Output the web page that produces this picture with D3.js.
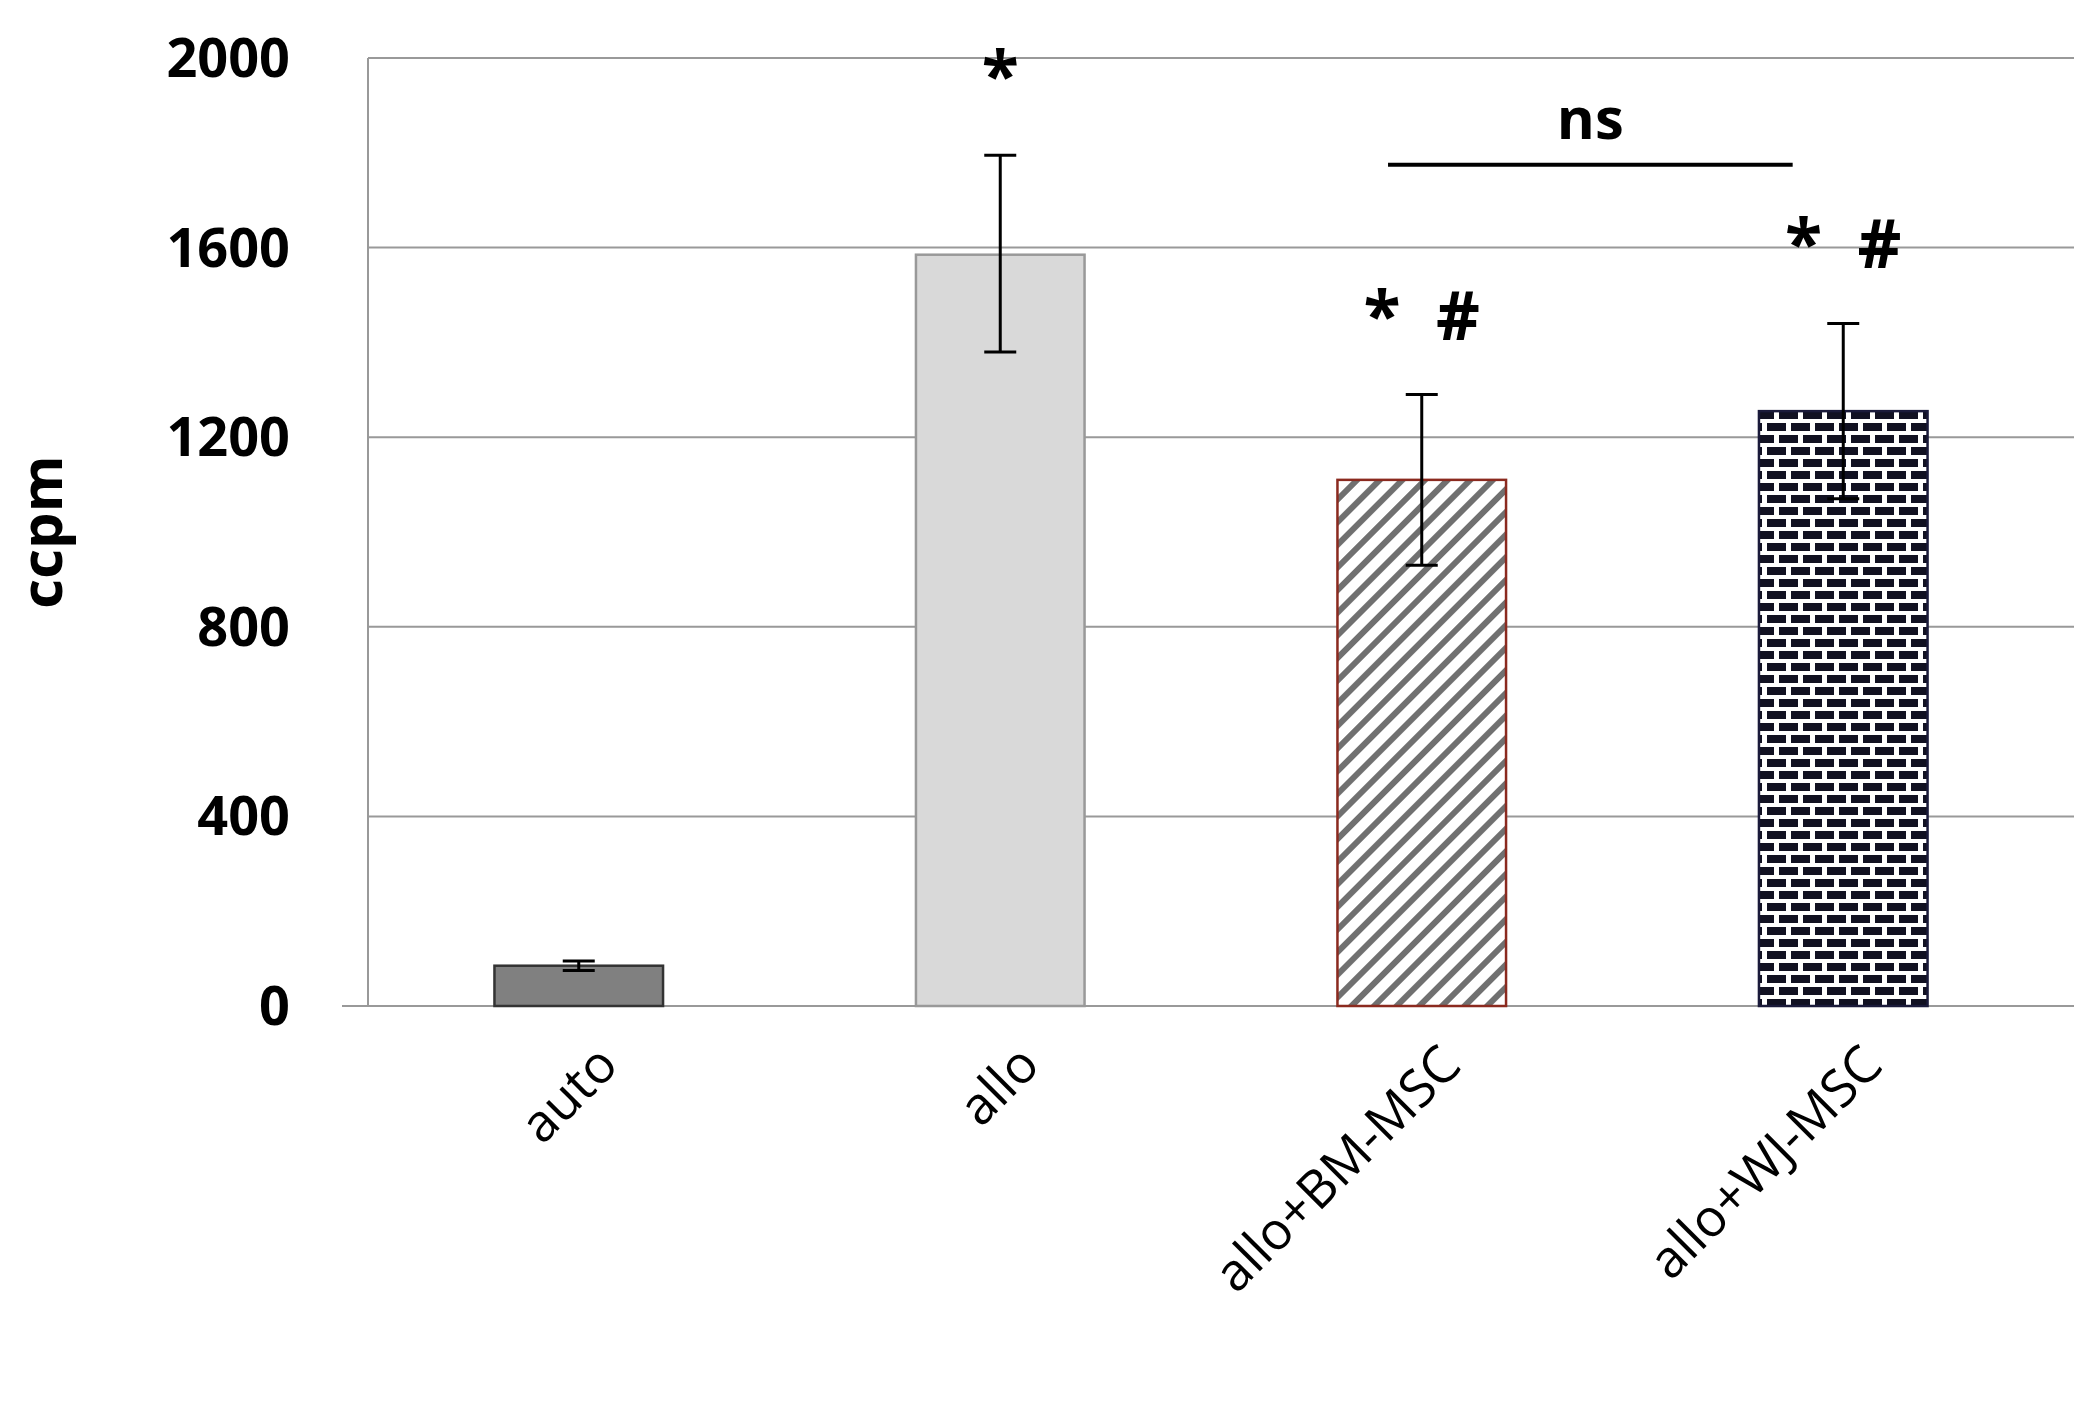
<!DOCTYPE html>
<html><head><meta charset="utf-8">
<script src="https://cdn.jsdelivr.net/npm/d3@7"></script>
<style>body{margin:0;background:#fff}</style></head>
<body><svg id="chart"></svg>
<script>
// Data
const categories = ['auto', 'allo', 'allo+BM-MSC', 'allo+WJ-MSC'];
const values = [85, 1585, 1110, 1255];
const errLow = [75, 1380, 930, 1070];
const errHigh = [95, 1795, 1290, 1440];
const marks = ['', '*', '* #', '* #'];
const yTicks = [0, 400, 800, 1200, 1600, 2000];

const width = 2090, height = 1416;
const margin = {top: 58, right: 16, bottom: 410, left: 368};

const svg = d3.select('#chart').attr('width', width).attr('height', height);
const defs = svg.append('defs');

// diagonal hatch
const hatch = defs.append('pattern').attr('id', 'hatch').attr('patternUnits', 'userSpaceOnUse')
    .attr('width', 16).attr('height', 16).attr('patternTransform', 'rotate(45)');
hatch.append('rect').attr('width', 16).attr('height', 16).attr('fill', '#fff');
hatch.append('rect').attr('width', 6).attr('height', 16).attr('fill', '#707070');

// brick pattern
const brick = defs.append('pattern').attr('id', 'brick').attr('patternUnits', 'userSpaceOnUse')
    .attr('width', 24).attr('height', 24);
brick.append('rect').attr('width', 24).attr('height', 24).attr('fill', '#fff');
brick.append('rect').attr('x', 3).attr('y', 3).attr('width', 19).attr('height', 8).attr('fill', '#111122');
brick.append('rect').attr('x', -9).attr('y', 15).attr('width', 19).attr('height', 8).attr('fill', '#111122');
brick.append('rect').attr('x', 15).attr('y', 15).attr('width', 19).attr('height', 8).attr('fill', '#111122');

const fills = ['#808080', '#d9d9d9', 'url(#hatch)', 'url(#brick)'];
const strokes = ['#333', '#999', '#8b2a1f', '#1a1a3a'];

const x = d3.scaleBand().domain(categories)
    .range([margin.left, width - 36]).paddingInner(0.6).paddingOuter(0.3);
const y = d3.scaleLinear().domain([0, 2000]).range([height - margin.bottom, margin.top]);

// grid lines
svg.append('g').selectAll('line').data(yTicks).enter().append('line')
    .attr('x1', d => d === 0 ? 342 : margin.left).attr('x2', width - margin.right)
    .attr('y1', d => y(d)).attr('y2', d => y(d))
    .attr('stroke', '#999').attr('stroke-width', 2);
svg.append('line').attr('x1', margin.left).attr('x2', margin.left)
    .attr('y1', y(2000)).attr('y2', y(0)).attr('stroke', '#999').attr('stroke-width', 2);

// y tick labels
svg.append('g').selectAll('text').data(yTicks).enter().append('text')
    .attr('x', 290).attr('y', d => y(d)).attr('dy', '0.35em').attr('text-anchor', 'end')
    .style('font', 'bold 54px "Open Sans", sans-serif').text(d => d);

svg.append('text').attr('transform', 'translate(62,' + y(1000) + ') rotate(-90)')
    .attr('text-anchor', 'middle').style('font', 'bold 58px "Open Sans", sans-serif').text('ccpm');

// bars
svg.append('g').selectAll('rect').data(values).enter().append('rect')
    .attr('x', (d, i) => x(categories[i])).attr('width', x.bandwidth())
    .attr('y', d => y(d)).attr('height', d => y(0) - y(d))
    .attr('fill', (d, i) => fills[i]).attr('stroke', (d, i) => strokes[i]).attr('stroke-width', 2.5);

// error bars
const eb = svg.append('g').attr('stroke', '#000').attr('stroke-width', 3);
categories.forEach((c, i) => {
    const cx = x(c) + x.bandwidth() / 2;
    eb.append('line').attr('x1', cx).attr('x2', cx).attr('y1', y(errLow[i])).attr('y2', y(errHigh[i]));
    [errLow[i], errHigh[i]].forEach(v => eb.append('line')
        .attr('x1', cx - 16).attr('x2', cx + 16).attr('y1', y(v)).attr('y2', y(v)));
});

// significance marks
svg.append('g').selectAll('text').data(marks).enter().append('text')
    .attr('x', (d, i) => x(categories[i]) + x.bandwidth() / 2)
    .attr('y', (d, i) => y(errHigh[i]) - 55)
    .attr('text-anchor', 'middle').attr('xml:space', 'preserve')
    .style('font', 'bold 68px "Open Sans", sans-serif').text(d => d.replace(' ', '  '));

// ns bracket
const nsX1 = x(categories[2]) + x.bandwidth() * 0.3, nsX2 = x(categories[3]) + x.bandwidth() * 0.2;
svg.append('line').attr('x1', nsX1).attr('x2', nsX2).attr('y1', y(1775)).attr('y2', y(1775))
    .attr('stroke', '#000').attr('stroke-width', 4);
svg.append('text').attr('x', (nsX1 + nsX2) / 2).attr('y', y(1830))
    .attr('text-anchor', 'middle').style('font', 'bold 58px "Open Sans", sans-serif').text('ns');

// x labels
svg.append('g').selectAll('text').data(categories).enter().append('text')
    .attr('transform', d => 'translate(' + (x(d) + x.bandwidth() / 2 + 16) + ',' + (y(0) + 36) + ') rotate(-45)')
    .attr('text-anchor', 'end').attr('dy', '0.7em')
    .style('font', '52px "Open Sans", sans-serif').text(d => d);
</script></body></html>
